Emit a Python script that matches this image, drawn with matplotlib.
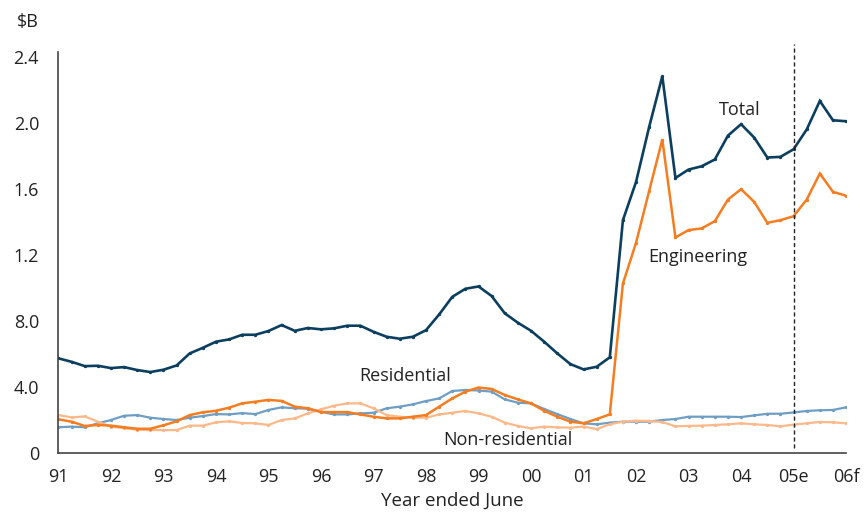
import numpy as np
import matplotlib
matplotlib.use('Agg')
import matplotlib.pyplot as plt

plt.rcParams['font.family'] = ['Open Sans', 'DejaVu Sans']

# Quarterly values, $B, June 1991 to June 2006 (61 quarters)
total = [0.574, 0.553, 0.527, 0.529, 0.515, 0.521, 0.503, 0.491, 0.505, 0.531,
         0.604, 0.638, 0.675, 0.689, 0.717, 0.717, 0.740, 0.776, 0.741, 0.758,
         0.750, 0.756, 0.772, 0.772, 0.735, 0.705, 0.693, 0.705, 0.745, 0.840,
         0.947, 0.996, 1.010, 0.952, 0.847, 0.790, 0.741, 0.675, 0.604, 0.539,
         0.507, 0.523, 0.580, 1.412, 1.644, 1.978, 2.285, 1.668, 1.719, 1.739,
         1.780, 1.925, 1.994, 1.913, 1.792, 1.796, 1.842, 1.962, 2.135, 2.018,
         2.012]
engineering = [0.204, 0.190, 0.164, 0.170, 0.166, 0.156, 0.147, 0.147, 0.168, 0.192,
               0.230, 0.247, 0.256, 0.275, 0.301, 0.311, 0.322, 0.316, 0.281, 0.271,
               0.248, 0.248, 0.248, 0.234, 0.220, 0.210, 0.210, 0.220, 0.230, 0.281,
               0.331, 0.372, 0.397, 0.388, 0.352, 0.325, 0.301, 0.256, 0.220, 0.190,
               0.180, 0.206, 0.234, 1.028, 1.275, 1.590, 1.901, 1.307, 1.352, 1.362,
               1.406, 1.537, 1.600, 1.523, 1.396, 1.412, 1.436, 1.537, 1.695, 1.584,
               1.560]
residential = [0.156, 0.160, 0.156, 0.180, 0.200, 0.226, 0.230, 0.214, 0.206, 0.200,
               0.214, 0.224, 0.236, 0.234, 0.242, 0.236, 0.261, 0.277, 0.271, 0.269,
               0.250, 0.234, 0.234, 0.240, 0.244, 0.271, 0.281, 0.295, 0.315, 0.331,
               0.376, 0.382, 0.379, 0.372, 0.325, 0.305, 0.301, 0.267, 0.236, 0.206,
               0.180, 0.174, 0.184, 0.190, 0.190, 0.190, 0.200, 0.206, 0.220, 0.220,
               0.220, 0.220, 0.218, 0.228, 0.238, 0.238, 0.246, 0.255, 0.259, 0.261,
               0.277]
non_residential = [0.230, 0.216, 0.222, 0.190, 0.160, 0.150, 0.141, 0.139, 0.139, 0.139,
                   0.166, 0.166, 0.186, 0.192, 0.182, 0.180, 0.170, 0.200, 0.210, 0.240,
                   0.265, 0.287, 0.301, 0.301, 0.271, 0.230, 0.220, 0.214, 0.214, 0.234,
                   0.244, 0.255, 0.240, 0.220, 0.184, 0.164, 0.150, 0.160, 0.155, 0.154,
                   0.160, 0.145, 0.174, 0.190, 0.196, 0.194, 0.188, 0.162, 0.164, 0.166,
                   0.170, 0.174, 0.180, 0.174, 0.170, 0.162, 0.172, 0.180, 0.188, 0.186,
                   0.180]

year_labels = ['91', '92', '93', '94', '95', '96', '97', '98', '99', '00',
               '01', '02', '03', '04', '05e', '06f']
y_ticks = [0, 0.4, 0.8, 1.2, 1.6, 2.0, 2.4]
y_tick_labels = ['0', '4.0', '8.0', '1.2', '1.6', '2.0', '2.4']
forecast_start = 14  # 05e

x = np.arange(len(total)) / 4.0

fig = plt.figure(figsize=(8.66, 5.15), dpi=100)
ax = fig.add_axes([0.0675, 0.1204, 0.9095, 0.778])

series = [
    (residential, '#6f9ec4', 1.6),
    (non_residential, '#fdb88a', 1.6),
    (engineering, '#f47d22', 1.8),
    (total, '#0c3e5e', 1.9),
]
for vals, col, lw in series:
    ax.plot(x, vals, color=col, lw=lw, marker='o', markersize=1.4,
            solid_joinstyle='miter')

ax.axvline(forecast_start, ymin=0.012, ymax=1.02, color='#222222', lw=1,
           ls=(0, (3, 2)), clip_on=False)

ax.set_xlim(0, 15)
ax.set_ylim(0, 2.43)
ax.set_xticks(range(len(year_labels)))
ax.set_xticklabels(year_labels)
ax.set_yticks(y_ticks)
ax.set_yticklabels(y_tick_labels)
ax.tick_params(length=0, labelsize=13, colors='#222222')
ax.tick_params(axis='y', pad=14)
ax.tick_params(axis='x', pad=11)

for s in ['top', 'right']:
    ax.spines[s].set_visible(False)
for s in ['left', 'bottom']:
    ax.spines[s].set_color('#444444')
    ax.spines[s].set_linewidth(1.2)

ax.set_xlabel('Year ended June', fontsize=13.5, color='#222222', labelpad=4)
fig.text(28 / 866, 1 - 22 / 515, '\\$B', fontsize=13, color='#222222',
         ha='center', va='center')

ax.text(12.98, 2.08, 'Total', fontsize=13, color='#222222', ha='center', va='center')
ax.text(12.18, 1.188, 'Engineering', fontsize=13, color='#222222', ha='center', va='center')
ax.text(6.6, 0.467, 'Residential', fontsize=13, color='#222222', ha='center', va='center')
ax.text(8.56, 0.079, 'Non-residential', fontsize=13, color='#222222', ha='center', va='center')

fig.savefig('out.png', dpi=100)
